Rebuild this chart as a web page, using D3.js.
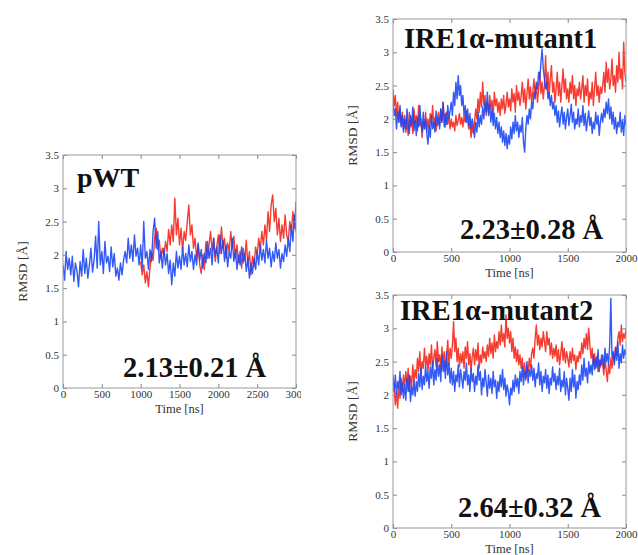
<!DOCTYPE html>
<html>
<head>
<meta charset="utf-8">
<script src="https://cdn.jsdelivr.net/npm/d3@7"></script>
<style>
  body { margin: 0; background: #fff; }
  svg { display: block; }
  .tick text { font-family: "Liberation Serif", "Times New Roman", serif; font-size: 11px; fill: #333; }
  .tick line { stroke: #888; }
  .domain { display: none; }
</style>
</head>
<body>
<div class="container"></div>
<script>
var width = 638;
var height = 555;

var yTicks = [0, 0.5, 1, 1.5, 2, 2.5, 3, 3.5];
var xTicksWT = [0, 500, 1000, 1500, 2000, 2500, 3000];
var xTicksMut = [0, 500, 1000, 1500, 2000];

// pWT: blue every 20 ns from 0, red every 20 ns from 1000
var wtStep = 20;
var wtRedStart = 1000;
var wtBlue = [
  1.85,1.62,2.05,1.78,1.95, 1.70,1.98,1.60,1.88,1.75, 1.52,1.90,1.68,2.08,1.72, 1.95,1.65,1.85,2.10,1.74,
  1.92,2.28,1.80,2.50,1.85, 2.05,1.72,2.20,1.88,1.98, 1.75,2.12,1.82,2.02,1.68, 1.80,1.62,1.88,1.70,1.92,
  2.05,1.88,2.25,1.95,2.15, 1.90,2.30,1.98,2.10,1.85, 2.15,1.80,2.50,1.95,2.05, 1.78,2.08,1.90,2.35,2.55,
  2.10,2.35,1.88,2.05,1.80, 2.10,1.85,2.02,1.72,1.92, 1.55,1.88,1.68,2.05,1.80, 1.98,1.78,2.12,1.85,2.02,
  1.82,2.15,1.90,2.05,1.78, 2.00,1.85,2.18,1.92,2.08, 1.80,2.02,1.88,2.20,1.95, 2.10,1.85,2.25,1.98,2.12,
  1.88,2.30,2.02,2.22,1.90, 2.15,1.82,2.05,1.95,2.25, 1.90,2.08,1.78,2.00,1.85, 2.12,1.88,2.02,1.75,1.95,
  1.65,1.88,1.72,1.95,1.78, 2.05,1.85,2.15,1.92,2.08, 1.88,2.22,1.95,2.10,1.82, 2.05,1.90,2.18,1.95,2.08,
  1.80,2.02,1.90,2.15,1.98, 2.25,2.05,2.45,2.20,2.60,2.35
];
var wtRed = [
  1.90,1.70,1.85,1.58,1.75, 1.52,1.80,2.05,1.92,2.25, 2.40,2.08,2.22,1.95,2.10, 1.98,2.20,2.05,2.38,2.15,
  2.45,2.20,2.85,2.30,2.55, 2.15,2.40,2.05,2.35,2.22, 2.50,2.75,2.30,2.45,2.10, 2.25,1.95,2.15,1.85,1.72,
  2.00,1.78,2.20,1.95,2.15, 2.35,2.05,2.25,1.90,2.12, 2.30,2.02,2.42,2.10,2.25, 1.95,2.18,2.05,2.35,2.10,
  2.28,1.95,2.15,1.88,2.05, 1.80,2.10,1.92,2.22,1.85, 2.05,1.70,1.98,1.82,2.12, 2.00,2.25,2.08,2.35,2.15,
  2.45,2.22,2.65,2.35,2.75, 2.90,2.50,2.70,2.30,2.55, 2.20,2.45,2.25,2.60,2.30, 2.20,2.50,2.35,2.65,2.40,2.80
];

// mutants: every 10 ns from 0 to 2000
var mutStep = 10;
var mut1Blue = [
  2.30,2.05,2.15,1.85,2.10,1.95,2.20,1.88,2.05,1.80, 2.00,1.85,2.15,1.92,1.78,2.05,1.90,2.18,1.82,1.98,
  1.75,2.02,1.88,2.20,1.95,1.80,2.10,1.85,2.00,1.78, 1.62,1.90,1.72,2.05,1.85,1.95,1.80,2.12,1.90,2.02,
  1.85,2.15,1.95,2.25,1.88,2.08,1.92,2.20,2.00,2.12, 2.25,2.05,2.40,2.20,2.55,2.30,2.65,2.35,2.50,2.20,
  2.35,2.05,2.20,1.95,2.15,1.90,2.08,1.85,2.00,1.88, 1.72,1.95,1.80,2.10,1.88,2.05,1.92,2.18,2.00,2.25,
  2.10,2.40,2.05,2.22,1.95,2.15,1.90,2.08,1.85,2.02, 1.78,1.95,1.72,1.88,1.65,1.82,1.60,1.78,1.55,1.75,
  1.62,1.88,1.70,1.95,1.78,2.05,1.82,1.95,1.72,1.90, 1.80,2.02,1.65,1.50,1.85,2.05,1.92,2.15,2.00,2.25,
  2.15,2.40,2.30,2.55,2.45,2.70,2.60,2.85,3.05,2.75, 2.60,2.45,2.55,2.30,2.40,2.20,2.35,2.15,2.25,2.05,
  2.20,1.95,2.12,1.88,2.05,2.18,1.92,2.10,1.85,2.02, 2.15,1.90,2.05,2.22,1.95,2.10,1.85,2.00,1.92,2.15,
  1.88,2.05,1.95,2.20,1.90,2.08,1.82,1.98,2.12,1.90, 2.02,1.78,1.95,1.85,2.10,1.92,2.05,1.75,1.95,2.08,
  1.95,2.15,2.02,2.25,2.08,2.30,2.00,2.18,1.92,2.10, 1.85,2.02,1.78,1.95,1.88,2.10,1.80,1.98,1.75,2.05,1.90
];
var mut1Red = [
  2.45,2.20,2.35,2.05,2.25,1.95,2.15,1.90,2.10,1.85, 2.05,1.80,1.98,1.75,2.10,1.88,2.00,1.78,2.15,1.92,
  2.05,1.82,2.20,1.90,2.00,1.72,1.95,1.85,2.10,1.80, 2.00,1.85,2.08,1.92,2.20,1.88,2.02,1.82,1.98,2.10,
  1.90,2.15,1.95,2.25,2.00,1.88,2.10,1.92,2.05,1.85, 2.00,1.88,1.95,1.82,2.05,1.90,1.98,2.08,1.92,2.02,
  1.88,2.05,1.95,2.12,2.00,1.85,1.95,1.72,1.90,1.78, 1.95,2.15,2.00,2.30,2.10,2.40,2.18,2.55,2.20,2.35,
  2.05,2.25,2.10,2.35,2.15,2.28,2.05,2.40,2.20,2.30, 2.10,2.25,2.05,2.30,2.15,2.35,2.08,2.22,2.40,2.18,
  2.30,2.12,2.45,2.25,2.38,2.10,2.50,2.28,2.40,2.20, 2.35,2.55,2.25,2.45,2.15,2.38,2.60,2.30,2.48,2.25,
  2.40,2.60,2.35,2.50,2.25,2.45,2.70,2.38,2.55,2.30, 2.50,2.95,2.45,2.70,2.35,2.60,2.80,2.40,2.55,2.25,
  2.45,2.70,2.35,2.55,2.25,2.50,2.75,2.40,2.60,2.30, 2.45,2.25,2.55,2.38,2.65,2.30,2.50,2.20,2.45,2.35,
  2.55,2.30,2.45,2.65,2.25,2.50,2.35,2.60,2.20,2.40, 2.30,2.55,2.20,2.45,2.70,2.35,2.50,2.25,2.48,2.38,
  2.50,2.70,2.40,2.85,2.55,2.75,2.45,2.60,2.90,2.50, 2.65,2.40,2.80,2.55,3.00,2.60,2.75,2.45,3.15,2.70,2.55
];
var mut2Blue = [
  2.25,2.05,2.30,1.98,2.20,2.10,2.35,2.00,2.18,1.95, 2.15,1.92,2.25,2.05,2.30,1.90,2.12,2.00,2.22,1.98,
  2.20,2.05,2.32,2.12,2.40,2.08,2.28,2.15,2.45,2.20, 2.35,2.10,2.42,2.25,2.50,2.15,2.38,2.22,2.55,2.28,
  2.45,2.20,2.60,2.35,2.50,2.25,2.65,2.30,2.48,2.18, 2.40,2.15,2.35,2.05,2.30,2.20,2.45,2.12,2.38,2.25,
  2.10,2.35,2.22,2.48,2.15,2.30,2.05,2.40,2.20,2.32, 2.05,2.28,2.15,2.45,2.22,2.35,2.00,2.25,2.12,2.38,
  2.18,1.98,2.30,2.10,2.25,2.02,2.35,2.12,2.22,1.95, 2.20,2.05,2.30,2.12,2.38,2.08,2.25,1.98,2.15,2.05,
  1.85,2.10,2.00,2.22,2.05,2.30,2.12,2.25,2.02,2.35, 2.20,2.42,2.15,2.35,2.25,2.50,2.18,2.38,2.28,2.45,
  2.22,2.40,2.12,2.32,2.25,2.48,2.15,2.35,2.05,2.28, 2.18,2.38,2.10,2.30,2.02,2.25,2.15,2.42,2.20,2.32,
  2.08,2.28,2.15,2.40,2.05,2.22,2.12,2.35,2.00,2.25, 2.10,1.92,2.25,2.05,2.38,2.12,2.30,1.95,2.20,2.08,
  2.30,2.15,2.45,2.22,2.55,2.28,2.40,2.18,2.50,2.32, 2.45,2.30,2.60,2.38,2.55,2.42,2.68,2.35,2.52,2.45,
  2.60,2.40,2.70,2.50,2.62,2.45,2.75,3.45,2.55,2.65, 2.45,2.70,2.52,2.80,2.40,2.62,2.48,2.75,2.55,2.68,2.60
];
var mut2Red = [
  2.30,2.10,1.85,2.05,1.80,2.15,1.95,2.25,2.05,2.30, 2.10,2.35,2.15,2.40,2.05,2.28,2.12,2.45,2.20,2.38,
  2.25,2.55,2.35,2.65,2.30,2.50,2.40,2.70,2.45,2.58, 2.35,2.62,2.45,2.75,2.40,2.55,2.68,2.42,2.80,2.50,
  2.60,2.38,2.72,2.48,2.65,2.35,2.58,2.82,2.45,2.70, 2.55,2.75,3.10,2.65,2.85,2.50,2.70,2.42,2.62,2.48,
  2.65,2.40,2.72,2.55,2.80,2.45,2.62,2.35,2.58,2.70, 2.45,2.68,2.52,2.78,2.40,2.60,2.48,2.72,2.55,2.65,
  2.50,2.75,2.58,2.85,2.62,2.78,2.55,2.90,2.65,2.80, 2.70,2.95,2.75,3.05,2.80,2.92,2.72,3.20,2.85,3.00,
  2.78,2.95,2.65,2.85,2.55,2.72,2.50,2.68,2.45,2.60, 2.40,2.55,2.30,2.48,2.22,2.42,2.35,2.55,2.40,2.62,
  2.70,2.55,2.85,3.05,2.75,2.90,2.68,2.85,2.72,2.95, 2.80,2.65,2.95,2.75,2.85,2.60,2.78,2.55,2.70,2.58,
  2.75,2.50,2.68,2.45,2.62,2.80,2.52,2.70,2.48,2.65, 2.55,2.42,2.65,2.48,2.70,2.52,2.60,2.38,2.58,2.50,
  2.65,2.55,2.78,2.62,2.85,2.70,2.92,2.68,3.00,2.75, 2.55,2.70,2.45,2.62,2.40,2.58,2.35,2.52,2.42,2.60,
  2.45,2.30,2.55,2.38,2.20,2.45,2.32,2.55,2.40,2.62, 2.50,2.72,2.60,2.85,2.95,2.75,3.05,2.80,2.92,2.85,3.00
];

var red = '#f5261a';
var blue = '#1c48f5';

var panels = [
  {title: 'pWT', stat: '2.13\u00b10.21 \u00c5', left: 63, top: 155, xMax: 3000, xTicks: xTicksWT,
   series: [{v: wtRed, start: wtRedStart, step: wtStep, c: red}, {v: wtBlue, start: 0, step: wtStep, c: blue}],
   titleX: 77, titleY: 187, titleSize: 28, statX: 123, statY: 377, clipRight: 301},
  {title: 'IRE1\u03b1-mutant1', stat: '2.23\u00b10.28 \u00c5', left: 393, top: 19, xMax: 2000, xTicks: xTicksMut,
   series: [{v: mut1Red, start: 0, step: mutStep, c: red}, {v: mut1Blue, start: 0, step: mutStep, c: blue}],
   titleX: 404, titleY: 48, titleSize: 28.5, statX: 460, statY: 239},
  {title: 'IRE1\u03b1-mutant2', stat: '2.64\u00b10.32 \u00c5', left: 393, top: 295, xMax: 2000, xTicks: xTicksMut,
   series: [{v: mut2Red, start: 0, step: mutStep, c: red}, {v: mut2Blue, start: 0, step: mutStep, c: blue}],
   titleX: 400, titleY: 320, titleSize: 28.5, statX: 458, statY: 517}
];

var plotW = 233;
var plotH = 233;
var serif = '"Liberation Serif", "Times New Roman", serif';

var translate = function(x, y) {
    return 'translate(' + x + ',' + y + ')';
};

var svg = d3.select('.container').append('svg')
    .attr('width', width)
    .attr('height', height);

svg.append('defs').append('clipPath')
    .attr('id', 'wtClip')
    .append('rect')
    .attr('x', 0).attr('y', 0)
    .attr('width', 301).attr('height', height);

panels.forEach(function(p, pi) {
    var outer = svg.append('g');
    if (p.clipRight) outer.attr('clip-path', 'url(#wtClip)');
    var g = outer.append('g').attr('transform', translate(p.left, p.top));

    var x = d3.scaleLinear().domain([0, p.xMax]).range([0, plotW]);
    var y = d3.scaleLinear().domain([0, 3.5]).range([plotH, 0]);

    var clipId = 'plotClip' + pi;
    g.append('clipPath').attr('id', clipId)
        .append('rect').attr('width', plotW).attr('height', plotH);

    var lines = g.append('g').attr('clip-path', 'url(#' + clipId + ')');
    p.series.forEach(function(s) {
        var line = d3.line()
            .x(function(d, i) { return x(s.start + i * s.step); })
            .y(function(d) { return y(d); });
        lines.append('path')
            .attr('d', line(s.v))
            .attr('fill', 'none')
            .attr('stroke', s.c)
            .attr('stroke-width', 1.4)
            .attr('stroke-opacity', 0.9)
            .attr('stroke-linejoin', 'round');
    });

    // axes with inward ticks
    g.append('g').attr('transform', translate(0, plotH))
        .call(d3.axisBottom(x).tickValues(p.xTicks).tickSize(-4).tickPadding(2.5).tickFormat(d3.format('d')));
    g.append('g')
        .call(d3.axisTop(x).tickValues(p.xTicks).tickSize(-4).tickFormat(''));
    g.append('g')
        .call(d3.axisLeft(y).tickValues(yTicks).tickSize(-4).tickPadding(4).tickFormat(d3.format('')));
    g.append('g').attr('transform', translate(plotW, 0))
        .call(d3.axisRight(y).tickValues(yTicks).tickSize(-4).tickFormat(''));

    g.append('rect')
        .attr('width', plotW).attr('height', plotH)
        .attr('fill', 'none')
        .attr('stroke', '#999')
        .attr('stroke-width', 1);

    g.append('text')
        .attr('x', plotW / 2).attr('y', plotH + 24.5)
        .attr('text-anchor', 'middle')
        .attr('font-family', serif).attr('font-size', 12.5)
        .attr('fill', '#333')
        .text('Time [ns]');

    g.append('text')
        .attr('transform', translate(-36, plotH / 2) + ' rotate(-90)')
        .attr('text-anchor', 'middle')
        .attr('font-family', serif).attr('font-size', 13.5)
        .attr('fill', '#333')
        .text('RMSD [\u00c5]');

    svg.append('text')
        .attr('x', p.titleX).attr('y', p.titleY)
        .attr('font-family', serif).attr('font-weight', 'bold')
        .attr('font-size', p.titleSize)
        .attr('fill', '#111')
        .text(p.title);

    svg.append('text')
        .attr('x', p.statX).attr('y', p.statY)
        .attr('font-family', serif).attr('font-weight', 'bold')
        .attr('font-size', 28.5)
        .attr('fill', '#111')
        .text(p.stat);
});
</script>
</body>
</html>
